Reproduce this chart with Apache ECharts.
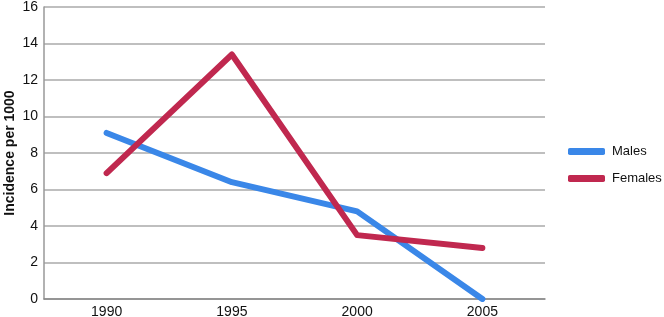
<!DOCTYPE html>
<html>
<head>
<meta charset="utf-8">
<script src="https://cdn.jsdelivr.net/npm/echarts@6/dist/echarts.min.js"></script>
<style>
  html, body { margin: 0; padding: 0; background: #fff; }
  #chart { width: 664px; height: 317px; }
</style>
</head>
<body>
<div id="chart"></div>
<script>
const years = ['1990', '1995', '2000', '2005']
const males = [9.1, 6.4, 4.8, 0]
const females = [6.9, 13.4, 3.5, 2.8]

const myChart = echarts.init(document.getElementById('chart'))
myChart.setOption({
  animation: false,
  textStyle: { fontFamily: 'Liberation Sans, Arial, sans-serif' },
  grid: { left: 44, right: 119, top: 7, bottom: 18, containLabel: false, outerBoundsMode: 'none' },
  legend: {
    orient: 'vertical',
    left: 563,
    top: 140,
    itemWidth: 37,
    itemHeight: 7,
    itemGap: 14,
    icon: 'roundRect',
    textStyle: { fontSize: 13, color: '#111', padding: [0, 0, 0, 2] },
    data: ['Males', 'Females']
  },
  xAxis: {
    type: 'category',
    data: years,
    axisLine: { lineStyle: { color: '#888', width: 1.5 } },
    axisTick: { show: false },
    axisLabel: { fontSize: 14, color: '#111', margin: 6 }
  },
  yAxis: {
    type: 'value',
    min: 0,
    max: 16,
    interval: 2,
    name: 'Incidence per 1000',
    nameLocation: 'middle',
    nameGap: 27,
    nameMoveOverlap: false,
    nameTextStyle: { fontSize: 14, fontWeight: 'bold', color: '#111' },
    axisLine: { show: true, lineStyle: { color: '#999', width: 1.5 } },
    axisTick: { show: false },
    axisLabel: { fontSize: 14, color: '#111', margin: 6 },
    splitLine: { lineStyle: { color: '#aaa', width: 1.5 } }
  },
  series: [
    {
      name: 'Males',
      type: 'line',
      data: males,
      symbol: 'none',
      lineStyle: { color: '#3a87e8', width: 6, cap: 'round', join: 'round' },
      itemStyle: { color: '#3a87e8' }
    },
    {
      name: 'Females',
      type: 'line',
      data: females,
      symbol: 'none',
      lineStyle: { color: '#c0284f', width: 6, cap: 'round', join: 'round' },
      itemStyle: { color: '#c0284f' }
    }
  ]
})
</script>
</body>
</html>
